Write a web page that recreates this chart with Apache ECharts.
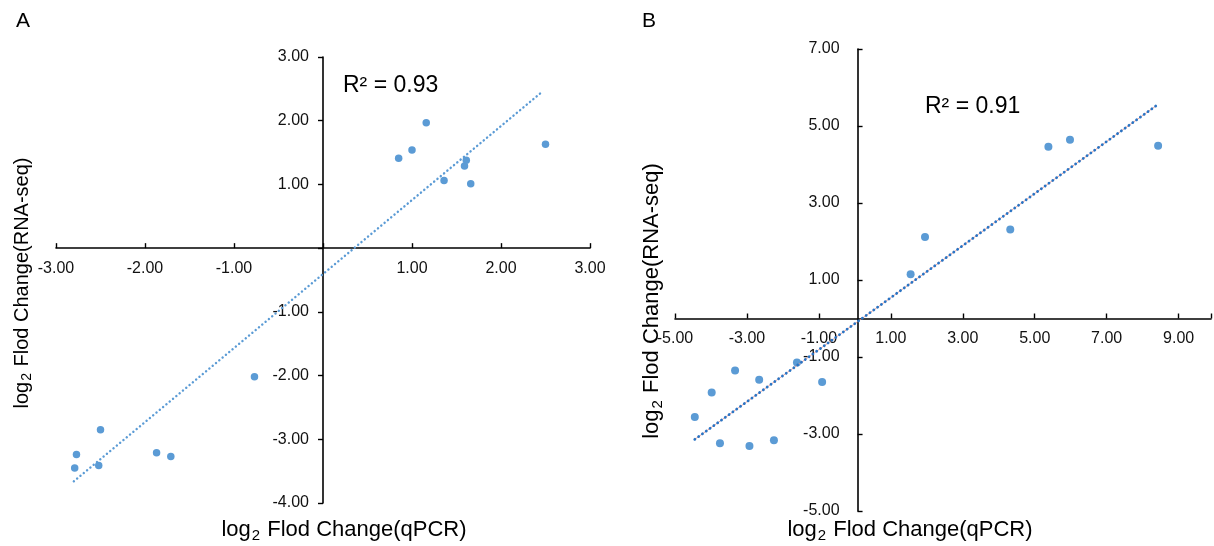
<!DOCTYPE html>
<html>
<head>
<meta charset="utf-8">
<title>qPCR vs RNA-seq</title>
<script src="https://cdn.jsdelivr.net/npm/echarts@6/dist/echarts.min.js"></script>
<style>
  html, body { margin: 0; padding: 0; background: #fff; }
  #main { width: 1214px; height: 546px; }
</style>
</head>
<body>
<div id="main"></div>
<script>
// 数据 - 图A
var qpcrA = [0.85, 1.00, 1.16, 1.36, 1.59, 1.61, 1.66, 2.50, -0.77, -2.50, -2.77, -2.79, -2.52, -1.87, -1.71];
var rnaA  = [1.41, 1.54, 1.97, 1.06, 1.29, 1.38, 1.01, 1.63, -2.02, -2.85, -3.24, -3.45, -3.41, -3.21, -3.27];
var trendAx = [-2.80, 2.45];
var trendAy = [-3.66, 2.44];
var r2A = 'R² = 0.93';

// 数据 - 图B
var qpcrB = [5.38, 5.98, 8.43, 4.32, 1.95, 1.55, -1.61, -0.91, -2.66, -3.33, -3.98, -4.45, -3.75, -2.93, -2.25];
var rnaB  = [4.46, 4.64, 4.49, 2.31, 2.12, 1.15, -1.14, -1.65, -1.59, -1.35, -1.92, -2.56, -3.24, -3.31, -3.16];
var trendBx = [-4.45, 8.38];
var trendBy = [-3.14, 5.53];
var r2B = 'R² = 0.91';

// 坐标轴范围 [min, max, interval]
var rangeAx = [-3, 3, 1];
var rangeAy = [-4, 3, 1];
var rangeBx = [-5, 9.9, 2];
var rangeBy = [-5, 7, 2];

var xNameText = '{a|log}{s|2}{a| Flod Change(qPCR)}';
var yNameText = '{a|log}{s|2}{a| Flod Change(RNA-seq)}';

var W = 1214, H = 546;
var gridA = { left: 56, right: 624, top: 57, bottom: 43 };
var gridB = { left: 675, right: -5, top: 49, bottom: 35 };

function zip(xs, ys) {
    var out = [];
    for (var i = 0; i < xs.length; i++) out.push([xs[i], ys[i]]);
    return out;
}
// 不显示0和非整数刻度
function fmt(v) {
    if (Math.abs(v) < 1e-9) return '';
    if (Math.abs(v - Math.round(v)) > 1e-6) return '';
    return v.toFixed(2);
}

var FONT = '"Liberation Sans", Arial, sans-serif';
var DOT = '#5b9bd5';

function richName(size) {
    return {
        a: { fontSize: size, fontFamily: FONT, color: '#000' },
        s: { fontSize: Math.round(size * 0.68), fontFamily: FONT, color: '#000', padding: [Math.round(size * 0.55), 1, 0, 1] }
    };
}

// 轴线移到0处（用offset，标签跟着轴走）
function xOffset(grid, r) {
    var h = H - grid.top - grid.bottom;
    var zeroY = grid.top + h * r[1] / (r[1] - r[0]);
    return -((H - grid.bottom) - zeroY);
}
function yOffset(grid, r) {
    var w = W - grid.left - grid.right;
    var zeroX = grid.left + w * (-r[0]) / (r[1] - r[0]);
    return -(zeroX - grid.left);
}

function valueAxis(idx, r, pos, offset, tickInside, margin) {
    return {
        type: 'value', gridIndex: idx, min: r[0], max: r[1], interval: r[2],
        position: pos, offset: offset,
        splitLine: { show: false },
        axisLine: { onZero: false, lineStyle: { color: '#000', width: 1.6 } },
        axisTick: { show: true, inside: tickInside, length: 5, lineStyle: { color: '#000', width: 1.4 } },
        axisLabel: { formatter: fmt, color: '#111', fontSize: 16, fontFamily: FONT, margin: margin }
    };
}

var myChart = echarts.init(document.getElementById('main'), null, { renderer: 'canvas' });

var option = {
    backgroundColor: '#fff',
    animation: false,
    grid: [gridA, gridB],
    xAxis: [
        valueAxis(0, rangeAx, 'bottom', xOffset(gridA, rangeAy), true, 12),
        valueAxis(1, rangeBx, 'bottom', xOffset(gridB, rangeBy), true, 12)
    ],
    yAxis: [
        valueAxis(0, rangeAy, 'left', yOffset(gridA, rangeAx), false, 14),
        valueAxis(1, rangeBy, 'left', yOffset(gridB, rangeBx), true, 18)
    ],
    series: [
        {
            type: 'line', xAxisIndex: 0, yAxisIndex: 0,
            data: zip(trendAx, trendAy), symbol: 'none', silent: true,
            lineStyle: { color: DOT, width: 2.4, type: [0.1, 4.2], cap: 'round' }
        },
        {
            type: 'scatter', xAxisIndex: 0, yAxisIndex: 0,
            data: zip(qpcrA, rnaA), symbolSize: 7.5,
            itemStyle: { color: DOT, opacity: 1 }
        },
        {
            type: 'line', xAxisIndex: 1, yAxisIndex: 1,
            data: zip(trendBx, trendBy), symbol: 'none', silent: true,
            lineStyle: { color: '#e8908a', width: 0.8 }
        },
        {
            type: 'line', xAxisIndex: 1, yAxisIndex: 1,
            data: zip(trendBx, trendBy), symbol: 'none', silent: true,
            lineStyle: { color: '#2a74c4', width: 2.8, type: [0.1, 4.6], cap: 'round' }
        },
        {
            type: 'scatter', xAxisIndex: 1, yAxisIndex: 1,
            data: zip(qpcrB, rnaB), symbolSize: 8,
            itemStyle: { color: DOT, opacity: 1 }
        }
    ],
    graphic: [
        { type: 'text', left: 16, top: 11, style: { text: 'A', fontSize: 21, fontFamily: FONT, fill: '#000' } },
        { type: 'text', left: 642, top: 11, style: { text: 'B', fontSize: 21, fontFamily: FONT, fill: '#000' } },
        { type: 'text', x: 343, y: 86, style: { text: r2A, fontSize: 23, fontFamily: FONT, fill: '#000', verticalAlign: 'middle' } },
        { type: 'text', x: 925, y: 107, style: { text: r2B, fontSize: 23, fontFamily: FONT, fill: '#000', verticalAlign: 'middle' } },
        { type: 'text', x: 344, y: 530, style: { text: xNameText, rich: richName(22), align: 'center', verticalAlign: 'middle' } },
        { type: 'text', x: 910, y: 530, style: { text: xNameText, rich: richName(22), align: 'center', verticalAlign: 'middle' } },
        { type: 'text', x: 22, y: 283, rotation: Math.PI / 2, style: { text: yNameText, rich: richName(20), align: 'center', verticalAlign: 'middle' } },
        { type: 'text', x: 652, y: 301, rotation: Math.PI / 2, style: { text: yNameText, rich: richName(22), align: 'center', verticalAlign: 'middle' } }
    ]
};
myChart.setOption(option);
</script>
</body>
</html>
